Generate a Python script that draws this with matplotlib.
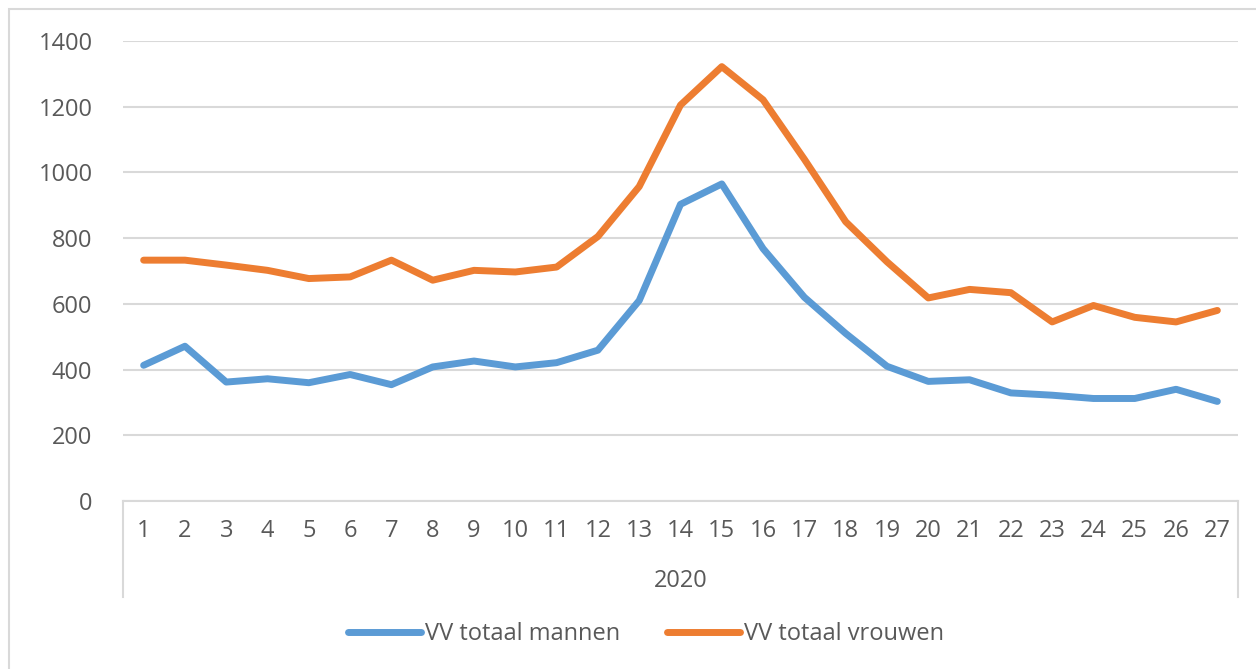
import numpy as np
import matplotlib.pyplot as plt
from matplotlib.patches import Rectangle

# week numbers (2020) and counts
weeks = list(range(1, 28))
mannen = [413, 471, 362, 372, 360, 385, 354, 408, 426, 408, 421, 459, 610, 903,
          965, 768, 620, 510, 410, 364, 369, 329, 322, 312, 312, 340, 303]
vrouwen = [733, 733, 718, 702, 677, 682, 733, 672, 702, 697, 712, 805, 957, 1205,
           1322, 1221, 1040, 850, 728, 618, 644, 634, 545, 595, 559, 545, 580]
year_label = "2020"
labels = ["VV totaal mannen", "VV totaal vrouwen"]
yticks = [0, 200, 400, 600, 800, 1000, 1200, 1400]

blue = "#5b9bd5"
orange = "#ed7d31"
grid = "#d9d9d9"
txt = "#595959"
fs = 17

plt.rcParams['font.family'] = ['Open Sans', 'DejaVu Sans']

W, H = 1256, 669
fig = plt.figure(figsize=(W / 100, H / 100), dpi=100)

# outer chart border (cut off at right and bottom)
fig.patches.append(Rectangle((9 / W, -0.1), 1.2, 1 - 9 / H + 0.1,
                             transform=fig.transFigure, fill=False,
                             edgecolor=grid, linewidth=1.5))

ax = fig.add_axes([123 / W, 1 - 501 / H, (1238 - 123) / W, (501 - 41) / H])

x = np.arange(len(weeks))
l1, = ax.plot(x, mannen, color=blue, linewidth=5, solid_joinstyle='round',
              solid_capstyle='round', label=labels[0])
l2, = ax.plot(x, vrouwen, color=orange, linewidth=5, solid_joinstyle='round',
              solid_capstyle='round', label=labels[1])

ax.set_xlim(-0.5, len(weeks) - 0.5)
ax.set_ylim(0, 1400)
ax.set_yticks(yticks)
ax.set_xticks(x)
ax.set_xticklabels([str(w) for w in weeks])
ax.yaxis.grid(True, color=grid, linewidth=1.5)
ax.set_axisbelow(True)
for s in ['left', 'right', 'top']:
    ax.spines[s].set_visible(False)
ax.spines['bottom'].set_color(grid)
ax.spines['bottom'].set_linewidth(1.5)
ax.tick_params(axis='y', length=0, pad=22, labelsize=fs, labelcolor=txt)
ax.tick_params(axis='x', length=0, pad=13, labelsize=fs, labelcolor=txt)

# multi-level category box
tr = ax.get_xaxis_transform()
for xe in [-0.5, len(weeks) - 0.5]:
    ax.plot([xe, xe], [0, -96 / 460], transform=tr, color=grid,
            linewidth=1.5, clip_on=False)
ax.text((len(weeks) - 1) / 2, -80 / 460, year_label, transform=tr,
        ha='center', va='center', fontsize=fs, color=txt)

fig.legend(handles=[l1, l2], loc='center', bbox_to_anchor=(646 / W, 1 - 634 / H),
           ncol=2, frameon=False, fontsize=fs, handlelength=3.1, handletextpad=0.15,
           columnspacing=2.0, labelcolor=txt)

fig.savefig("out.png", dpi=100)
